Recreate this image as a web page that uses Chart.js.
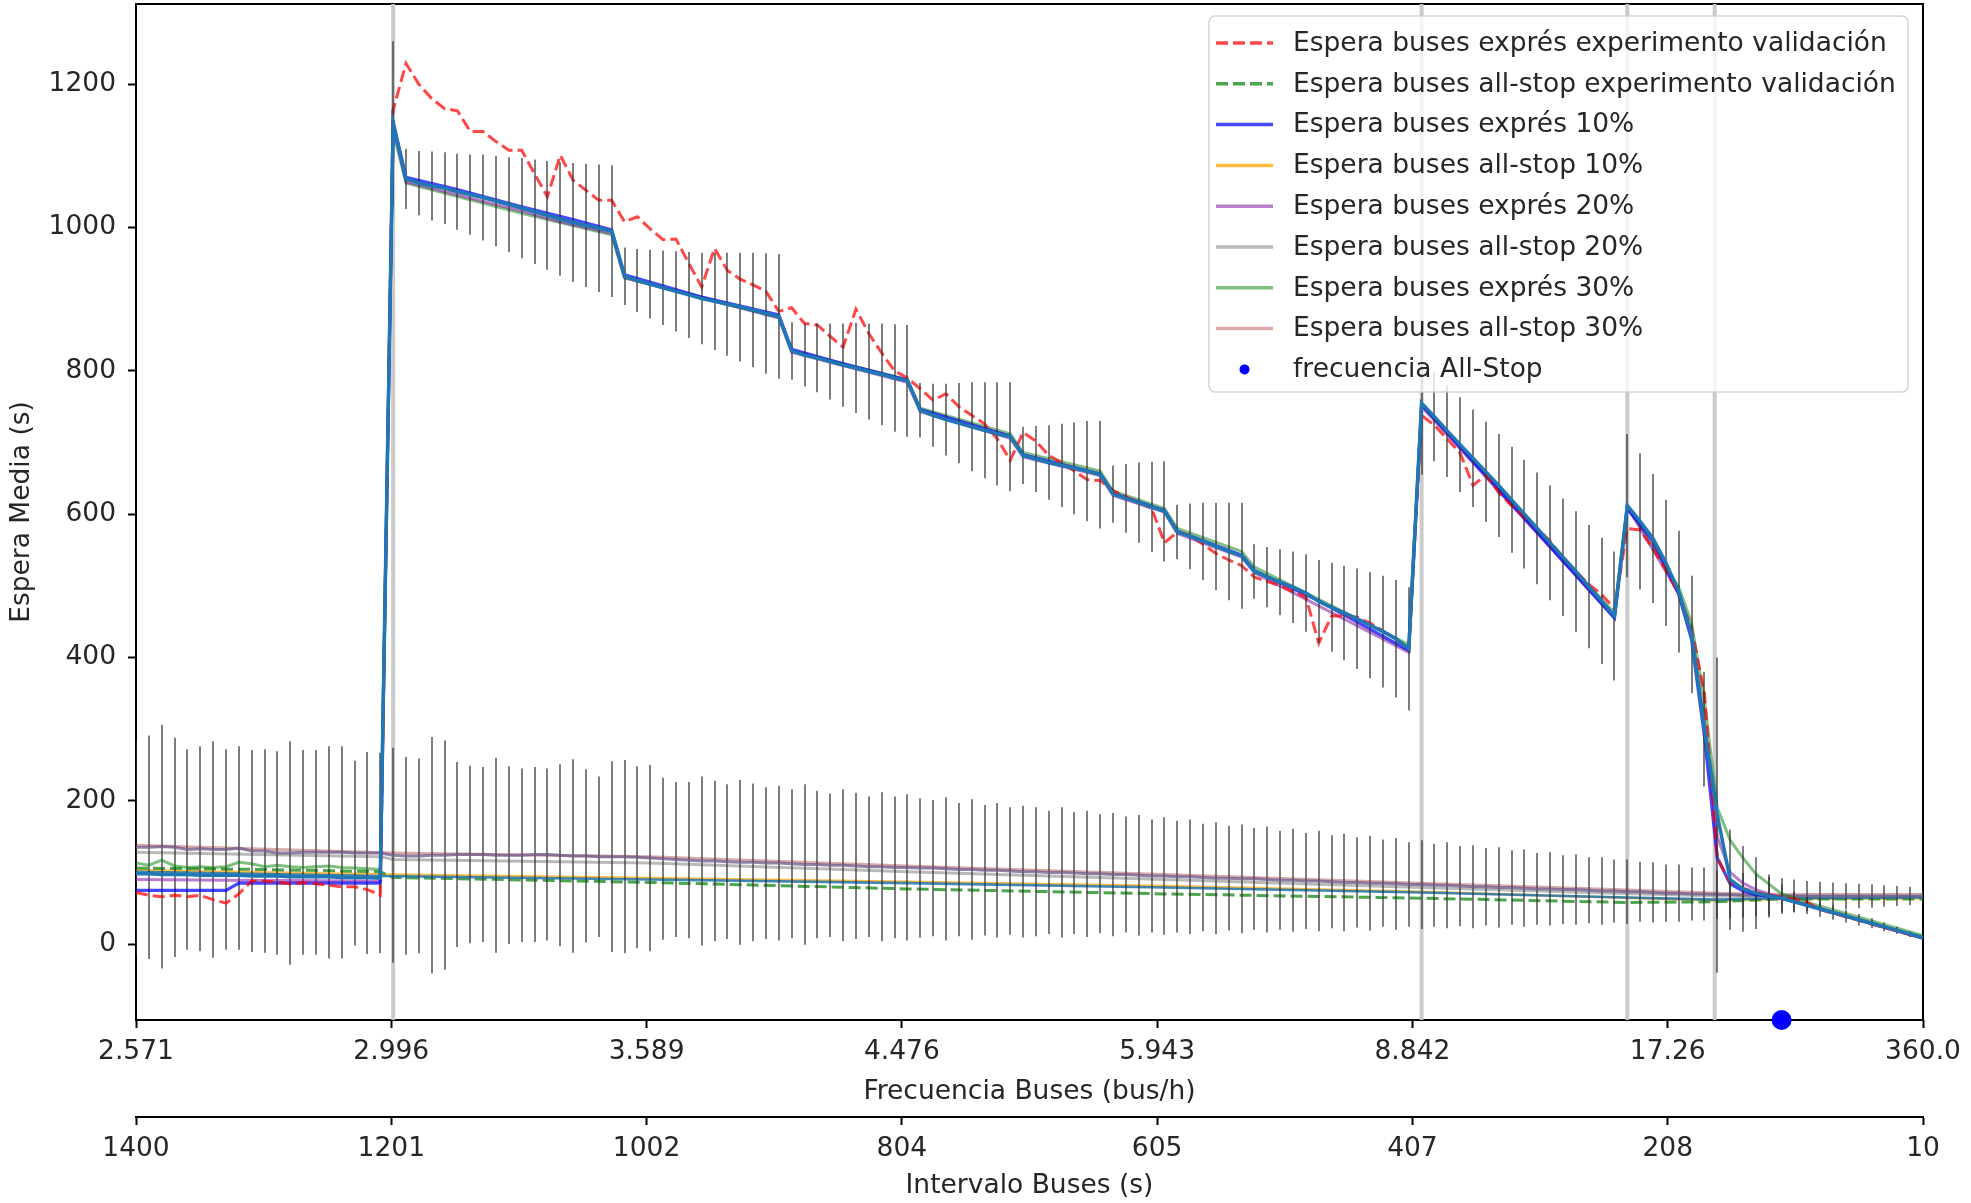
<!DOCTYPE html>
<html>
<head>
<meta charset="utf-8">
<script src="https://cdn.jsdelivr.net/npm/chart.js@4.4.1/dist/chart.umd.min.js"></script>
<style>
  html, body { margin: 0; padding: 0; background: #ffffff; }
  #wrap { width: 1971px; height: 1203px; }
</style>
</head>
<body>
<div id="wrap"><canvas id="c" width="1971" height="1203"></canvas></div>
<script>
// Bus headway (s) of every simulated scenario
const INTERVALS = [
  1400,1390,1380,1370,1360,1350,1340,1330,1320,1310,
  1300,1290,1280,1270,1260,1250,1240,1230,1220,1210,
  1200,1190,1180,1170,1160,1150,1140,1130,1120,1110,
  1100,1090,1080,1070,1060,1050,1040,1030,1020,1010,
  1000,990,980,970,960,950,940,930,920,910,
  900,890,880,870,860,850,840,830,820,810,
  800,790,780,770,760,750,740,730,720,710,
  700,690,680,670,660,650,640,630,620,610,
  600,590,580,570,560,550,540,530,520,510,
  500,490,480,470,460,450,440,430,420,410,
  400,390,380,370,360,350,340,330,320,310,
  300,290,280,270,260,250,240,230,220,210,
  200,190,180,170,160,150,140,130,120,110,
  100,90,80,70,60,50,40,30,20,10
];

// Mean express wait (s) with its standard deviation
const EXP_MEAN = [
  98,98,97,97,97,96,96,96,96,95,95,95,94,94,94,94,93,93,93,92,
  1145,1068,1062,1058,1055,1050,1046,1042,1037,1032,1027,1022,1017,1012,1007,1003,999,995,932,926,
  921,916,911,906,901,897,893,889,885,880,876,828,822,818,813,808,804,799,795,790,
  786,745,738,732,727,722,717,712,708,682,677,672,668,664,660,655,628,622,616,610,
  604,575,569,562,555,548,542,520,512,505,498,490,478,470,462,454,445,436,426,412,
  755,736,716,697,678,659,640,620,600,580,560,540,520,499,479,458,612,590,566,532,
  492,432,300,180,90,77,71,67,64,59,54,49,44,39,34,29,24,19,14,9
];
const EXP_ERR = [
  null,null,null,null,null,null,null,null,null,null,null,null,null,null,null,null,null,null,null,null,
  115,42,45,48,50,53,56,60,63,66,70,73,76,79,83,86,89,92,40,44,
  48,52,56,60,64,68,72,76,80,84,87,40,44,48,53,58,63,67,71,75,
  78,38,44,50,56,62,67,72,76,40,46,52,58,64,70,75,40,48,56,63,
  70,38,46,54,61,68,74,38,42,46,50,54,58,62,66,70,74,78,82,86,
  100,62,64,66,68,70,72,74,76,78,80,82,84,86,88,90,100,95,90,88,
  85,82,80,220,70,60,50,30,19,14,12,11,10,9,8,7,6,5,4,3
];

// Mean all-stop wait (s) with its standard deviation
const ALLSTOP_MEAN = [
  135,135,136,135,132,133,132,132,134,130,130,127,127,128,128,128,128,127,127,127,
  124,123,123,124,124,125,125,125,124,124,124,125,125,124,123,123,122,122,122,121,
  120,119,118,117,116,116,115,114,114,113,113,112,111,111,110,110,109,108,108,107,
  107,106,106,105,104,104,103,103,102,101,101,100,100,99,98,98,97,97,96,95,
  95,94,94,93,92,92,91,91,90,89,89,88,88,87,86,86,85,85,84,83,
  83,82,82,81,80,80,79,79,78,77,77,76,76,75,74,74,73,73,72,71,
  71,70,70,69,69,68,68,67,67,67,67,67,67,67,67,67,67,67,67,67
];
const ALLSTOP_ERR = [
  150,156,170,153,140,143,151,140,142,141,142,142,156,143,143,148,148,129,141,140,
  150,138,136,165,160,129,124,122,136,124,121,122,120,127,135,121,112,133,135,127,
  130,113,108,109,118,112,108,115,110,106,108,104,112,103,100,106,102,98,104,99,
  102,97,95,100,93,98,91,94,89,92,90,86,91,85,88,83,86,81,84,79,
  82,78,80,75,78,73,76,71,74,69,72,67,70,65,68,63,66,61,64,59,
  62,58,60,56,58,54,56,52,54,50,51,48,49,46,47,44,45,42,42,40,
  40,37,37,34,33,31,29,27,25,23,21,20,19,18,17,16,15,14,13,12
];

// Validation run, express buses
const EXP_VAL = [
  72,68,66,68,66,68,62,57,70,88,88,86,84,86,84,82,80,80,76,68,
  1164,1229,1200,1180,1166,1163,1134,1134,1120,1108,1108,1075,1043,1101,1066,1052,1038,1038,1008,1015,
  998,983,984,950,917,971,940,928,920,911,883,888,866,864,848,833,886,852,825,800,
  790,775,759,768,750,738,726,705,675,714,702,682,672,660,648,647,633,624,616,608,
  560,575,570,558,545,536,528,512,506,500,492,484,420,458,458,456,448,437,426,412,
  738,724,705,685,640,655,630,612,596,580,562,540,520,502,488,468,580,578,552,522,
  488,440,350,120,86,78,72,68,65,63,58,48,43,38,33,28,23,18,13,9
];

// Validation run, all-stop buses  [headway, wait]
const ALLSTOP_VAL = [[1400,106],[1300,104],[1210,101],[1200,93],[1000,86],[800,77],[600,70],[400,64],[240,58],[170,59],[120,63],[10,63]];

// Simulated waits for 10 %, 20 % and 30 % express share  [headway, wait]
const EXP_10 = [[1400,75],[1330,75],[1320,85],[1210,85],[1200,1148],[1190,1070],[1150,1053],[1100,1029],[1060,1011],[1030,997],[1020,934],[960,903],[900,878],[890,830],[850,810],[800,787],[790,746],[720,709],[710,683],[650,656],[640,629],[600,605],[590,576],[540,543],[530,521],[480,479],[410,410],[400,753],[250,455],[240,608],[220,562],[200,488],[190,425],[180,290],[170,120],[160,84],[150,74],[140,69],[120,64],[10,8]];
const EXP_20 = [[1400,90],[1330,89],[1210,88],[1200,1140],[1190,1064],[1100,1023],[1070,1008],[1030,992],[1020,930],[900,874],[890,826],[800,784],[790,743],[720,706],[710,680],[650,654],[640,626],[600,603],[590,573],[540,540],[530,518],[410,407],[400,750],[250,456],[240,610],[200,490],[190,432],[180,310],[170,150],[160,100],[150,85],[140,76],[130,70],[120,65],[10,9]];
const EXP_30 = [[1400,113],[1390,110],[1380,117],[1370,109],[1360,107],[1350,108],[1340,107],[1330,108],[1320,114],[1310,112],[1300,108],[1290,110],[1280,108],[1270,107],[1260,108],[1250,109],[1240,107],[1230,106],[1220,105],[1210,104],[1200,1135],[1190,1062],[1100,1020],[1030,990],[1020,930],[900,874],[890,828],[800,788],[790,748],[720,712],[710,686],[650,660],[640,632],[600,608],[590,580],[540,548],[530,526],[410,418],[400,752],[250,462],[240,612],[200,498],[190,448],[180,340],[170,190],[160,145],[150,120],[140,98],[130,84],[120,70],[100,58],[10,12]];
const ALLSTOP_10 = [[1400,103],[1200,97],[1000,92],[800,87],[600,81],[400,73],[250,65],[170,61],[120,63],[10,64]];
const ALLSTOP_20 = [[1400,128],[1210,122],[1200,118],[1000,113],[800,101],[600,90],[400,79],[250,71],[170,67],[120,66],[10,66]];
const ALLSTOP_30 = [[1400,138],[1200,127],[1000,122],[800,109],[600,97],[400,85],[250,76],[170,71],[120,69],[10,69]];
const ALLSTOP_MID = [[1400,101],[1210,95],[1000,90],[800,85],[600,79],[400,72],[240,65],[170,62],[120,64],[10,65]];

// Headways where the express service changes regime
const REGIME_LINES = [1200, 400, 240, 172];
// All-stop operating headway
const ALLSTOP_FREQ = [[120, -106]];

// Axis ticks
const TICK_POS = [1400, 1201.43, 1002.86, 804.29, 605.71, 407.14, 208.57, 10];
const FREQ_LABELS = ['2.571', '2.996', '3.589', '4.476', '5.943', '8.842', '17.26', '360.0'];
const INTERVAL_LABELS = ['1400', '1201', '1002', '804', '605', '407', '208', '10'];
const Y_TICKS = [0, 200, 400, 600, 800, 1000, 1200];
const Y_MIN = -106, Y_MAX = 1312;

const FONT = 'DejaVu Sans';
const TEXT = '#262626';
const FONT_SIZE = 26.5;
Chart.defaults.font.family = FONT;
Chart.defaults.color = TEXT;

const pts = (arr) => arr.map(([x, y]) => ({x, y}));
const series = (arr) => INTERVALS.map((x, i) => ({x, y: arr[i]}));
const bars = (mean, err) => INTERVALS.map((x, i) => ({x, y: mean[i], h: err[i]}));

function line(label, data, color, width, order, extra) {
  return Object.assign({
    label, data, borderColor: color, backgroundColor: color, borderWidth: width,
    pointRadius: 0, tension: 0, fill: false, xAxisID: 'xi', yAxisID: 'y', order
  }, extra || {});
}

const DASH = [12, 5];
const datasets = [
  line('Espera buses exprés experimento validación', series(EXP_VAL), 'rgba(255,0,0,0.72)', 3, 25, {borderDash: DASH}),
  line('Espera buses all-stop experimento validación', pts(ALLSTOP_VAL), 'rgba(0,128,0,0.7)', 3, 55, {borderDash: DASH}),
  line('Espera buses exprés 10%', pts(EXP_10), 'rgba(0,0,255,0.72)', 3.2, 32),
  line('Espera buses all-stop 10%', pts(ALLSTOP_10), 'rgba(255,165,0,0.75)', 2.6, 56),
  line('Espera buses exprés 20%', pts(EXP_20), 'rgba(140,40,170,0.6)', 3, 34),
  line('Espera buses all-stop 20%', pts(ALLSTOP_20), 'rgba(128,128,128,0.55)', 3, 58),
  line('Espera buses exprés 30%', pts(EXP_30), 'rgba(0,128,0,0.5)', 3, 36),
  line('Espera buses all-stop 30%', pts(ALLSTOP_30), 'rgba(165,42,42,0.4)', 3, 59),
  {
    label: 'frecuencia All-Stop', type: 'scatter', data: pts(ALLSTOP_FREQ),
    backgroundColor: '#0000ff', borderColor: '#0000ff', pointRadius: 10, pointBorderWidth: 0,
    showLine: false, clip: false, xAxisID: 'xi', yAxisID: 'y', order: 0
  },
  // Mean curves drawn with their standard-deviation bars
  line('', series(EXP_MEAN), '#1f77b4', 3.5, 20, {errorBars: bars(EXP_MEAN, EXP_ERR)}),
  line('', series(ALLSTOP_MEAN), 'rgba(110,90,140,0.75)', 3, 50, {errorBars: bars(ALLSTOP_MEAN, ALLSTOP_ERR)}),
  line('', pts(ALLSTOP_MID), 'rgba(31,119,180,0.85)', 2.6, 54)
];
REGIME_LINES.forEach((x) => {
  datasets.push(line('', [{x, y: Y_MIN}, {x, y: Y_MAX}], 'rgba(200,200,200,0.95)', 4, 100));
});

// Standard-deviation bars, painted just under the curve they belong to
const errorBarPlugin = {
  id: 'errorBars',
  beforeDatasetDraw(chart, args) {
    const ds = chart.data.datasets[args.index];
    if (!ds.errorBars) return;
    const {ctx, chartArea: a} = chart;
    const xs = chart.scales.xi, ys = chart.scales.y;
    ctx.save();
    ctx.beginPath();
    ctx.rect(a.left, a.top, a.right - a.left, a.bottom - a.top);
    ctx.clip();
    ctx.strokeStyle = 'rgba(45,45,45,0.62)';
    ctx.lineWidth = 2;
    ds.errorBars.forEach((e) => {
      if (e.h == null) return;
      const px = Math.round(xs.getPixelForValue(e.x));
      ctx.beginPath();
      ctx.moveTo(px, ys.getPixelForValue(e.y - e.h));
      ctx.lineTo(px, ys.getPixelForValue(e.y + e.h));
      ctx.stroke();
    });
    ctx.restore();
  }
};

// Box around the plotting area
const framePlugin = {
  id: 'frame',
  beforeDatasetsDraw(chart) {
    const {ctx, chartArea: a} = chart;
    ctx.save();
    ctx.strokeStyle = '#000';
    ctx.lineWidth = 2;
    ctx.strokeRect(a.left, a.top, a.right - a.left, a.bottom - a.top);
    ctx.restore();
  }
};

// Framed legend in the upper-right corner of the plot
const LEGEND_BOX = {x: 1209, y: 16, w: 699, h: 376, row0: 43, gap: 40.8, lineX0: 1216, lineX1: 1273, textX: 1293};
const legendPlugin = {
  id: 'boxLegend',
  afterDatasetsDraw(chart) {
    const ctx = chart.ctx;
    const L = LEGEND_BOX;
    const items = chart.data.datasets.filter((d) => d.label);
    ctx.save();
    ctx.beginPath();
    ctx.roundRect(L.x, L.y, L.w, L.h, 6);
    ctx.fillStyle = 'rgba(255,255,255,0.8)';
    ctx.fill();
    ctx.strokeStyle = 'rgba(204,204,204,0.85)';
    ctx.lineWidth = 1.5;
    ctx.stroke();
    ctx.font = FONT_SIZE + 'px "' + FONT + '"';
    ctx.textBaseline = 'middle';
    ctx.textAlign = 'left';
    items.forEach((d, i) => {
      const y = L.row0 + i * L.gap;
      if (d.showLine === false) {
        ctx.beginPath();
        ctx.arc((L.lineX0 + L.lineX1) / 2, y, 5, 0, Math.PI * 2);
        ctx.fillStyle = d.backgroundColor;
        ctx.fill();
      } else {
        ctx.beginPath();
        ctx.setLineDash(d.borderDash || []);
        ctx.strokeStyle = d.borderColor;
        ctx.lineWidth = 3.5;
        ctx.moveTo(L.lineX0, y);
        ctx.lineTo(L.lineX1, y);
        ctx.stroke();
        ctx.setLineDash([]);
      }
      ctx.fillStyle = TEXT;
      ctx.fillText(d.label, L.textX, y + 1);
    });
    ctx.restore();
  }
};

const tickFont = {family: FONT, size: FONT_SIZE};
const noPad = (s) => { s.paddingLeft = 0; s.paddingRight = 0; s.paddingTop = 0; s.paddingBottom = 0; };

new Chart(document.getElementById('c'), {
  type: 'line',
  data: {datasets},
  options: {
    responsive: false,
    animation: false,
    devicePixelRatio: 1,
    layout: {autoPadding: false, padding: {left: 0, right: 48, top: 4, bottom: 0}},
    plugins: {legend: {display: false}, tooltip: {enabled: false}},
    scales: {
      xf: {
        type: 'linear', position: 'bottom', weight: 0, reverse: true, min: 10, max: 1400,
        afterBuildTicks: (s) => { s.ticks = TICK_POS.map((v) => ({value: v})); },
        afterFit: (s) => { s.height = 97; noPad(s); },
        ticks: {font: tickFont, color: TEXT, padding: 8, maxRotation: 0, autoSkip: false,
          callback: (v, i) => FREQ_LABELS[i]},
        grid: {display: true, drawOnChartArea: false, drawTicks: true, tickLength: 8, tickWidth: 2, tickColor: '#000'},
        border: {display: false},
        title: {display: true, text: 'Frecuencia Buses (bus/h)', font: tickFont, color: TEXT, padding: {top: 0, bottom: 9}}
      },
      xi: {
        type: 'linear', position: 'bottom', weight: 1, reverse: true, min: 10, max: 1400,
        afterBuildTicks: (s) => { s.ticks = TICK_POS.map((v) => ({value: v})); },
        afterFit: (s) => { s.height = 86; noPad(s); },
        ticks: {font: tickFont, color: TEXT, padding: 8, maxRotation: 0, autoSkip: false,
          callback: (v, i) => INTERVAL_LABELS[i]},
        grid: {display: true, drawOnChartArea: false, drawTicks: true, tickLength: 8, tickWidth: 2, tickColor: '#000'},
        border: {display: true, color: '#000', width: 2},
        title: {display: true, text: 'Intervalo Buses (s)', font: tickFont, color: TEXT, padding: {top: 0, bottom: 1}}
      },
      y: {
        type: 'linear', position: 'left', min: Y_MIN, max: Y_MAX,
        afterBuildTicks: (s) => { s.ticks = Y_TICKS.map((v) => ({value: v})); },
        afterFit: (s) => { s.width = 136; noPad(s); },
        ticks: {font: tickFont, color: TEXT, padding: 12, callback: (v) => String(v)},
        grid: {display: true, drawOnChartArea: false, drawTicks: true, tickLength: 8, tickWidth: 2, tickColor: '#000'},
        border: {display: false},
        title: {display: true, text: 'Espera Media (s)', font: tickFont, color: TEXT, padding: {top: 6, bottom: 0}}
      }
    }
  },
  plugins: [framePlugin, errorBarPlugin, legendPlugin]
});
</script>
</body>
</html>
